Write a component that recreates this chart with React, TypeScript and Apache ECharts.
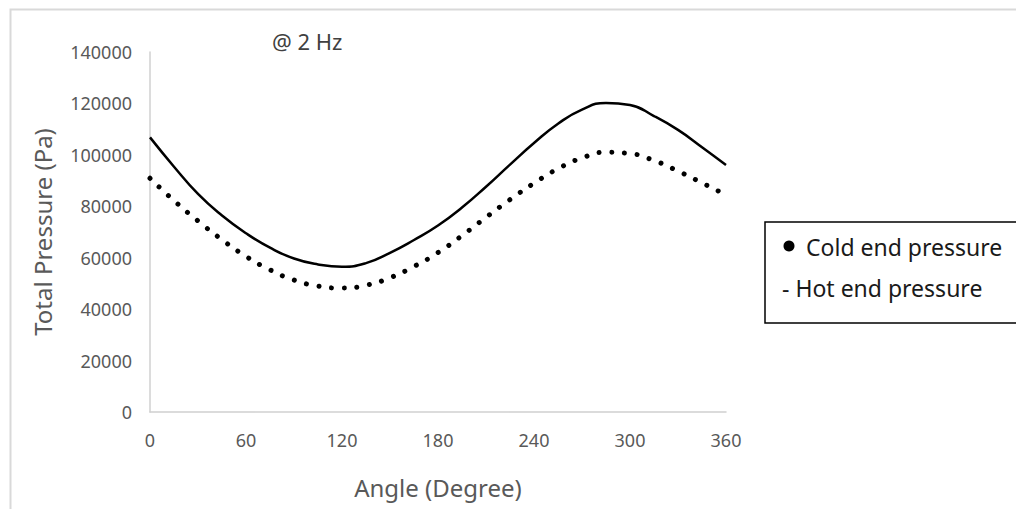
import React, { useEffect, useRef } from "react";
import * as echarts from "echarts";

const angles = [0, 15, 30, 45, 60, 75, 90, 105, 120, 135, 150, 165, 180, 195, 210, 225, 240, 255, 270, 285, 300, 315, 330, 345, 360];
const hotEndPressure = [106800, 95400, 84800, 76400, 69500, 63900, 59700, 57400, 56500, 57900, 61900, 66900, 72500, 79500, 87600, 96200, 104600, 112100, 117600, 120200, 119400, 115100, 109700, 103000, 96100];
const coldEndPressure = [90900, 82200, 74300, 67000, 60500, 55300, 51300, 49000, 48200, 49300, 52200, 56600, 62000, 68600, 75700, 82600, 89000, 94600, 98800, 101000, 100500, 97800, 93700, 89100, 84400];
const xTicks = { min: 0, max: 360, interval: 60 };
const yTicks = { min: 0, max: 140000, interval: 20000 };

const FONT = "'Noto Sans', 'Open Sans', sans-serif";

export default function App() {
  const ref = useRef<HTMLDivElement>(null);
  useEffect(() => {
    document.body.style.margin = "0";
    if (!ref.current) return;
    const chart = echarts.init(ref.current, null, { renderer: "svg" });
    const pair = (vals: number[]) => angles.map((a, i) => [a, vals[i]]);
    chart.setOption({
      animation: false,
      backgroundColor: "#ffffff",
      grid: { left: 150, right: 290, top: 52, bottom: 97 },
      xAxis: {
        type: "value",
        min: xTicks.min,
        max: xTicks.max,
        interval: xTicks.interval,
        name: "Angle (Degree)",
        nameLocation: "middle",
        nameGap: 63,
        nameTextStyle: { fontFamily: FONT, fontSize: 24, color: "#595959" },
        axisLine: { show: true, lineStyle: { color: "#d0d0d0", width: 1.5 } },
        axisTick: { show: false },
        splitLine: { show: false },
        axisLabel: { fontFamily: FONT, fontSize: 18, color: "#595959", margin: 19, formatter: (v: number) => String(v) },
      },
      yAxis: {
        type: "value",
        min: yTicks.min,
        max: yTicks.max,
        interval: yTicks.interval,
        name: "Total Pressure (Pa)",
        nameLocation: "middle",
        nameGap: 96,
        nameTextStyle: { fontFamily: FONT, fontSize: 24, color: "#595959" },
        axisLine: { show: true, lineStyle: { color: "#d0d0d0", width: 1.5 } },
        axisTick: { show: false },
        splitLine: { show: false },
        axisLabel: { fontFamily: FONT, fontSize: 18, color: "#595959", margin: 18, formatter: (v: number) => String(v) },
      },
      series: [
        {
          name: "Hot end pressure",
          type: "line",
          data: pair(hotEndPressure),
          smooth: 0.5,
          showSymbol: false,
          symbol: "none",
          lineStyle: { color: "#000000", width: 2.5 },
        },
        {
          name: "Cold end pressure",
          type: "line",
          data: pair(coldEndPressure),
          smooth: 0.5,
          showSymbol: false,
          symbol: "none",
          lineStyle: { color: "#000000", width: 5, type: [0.01, 12.7], cap: "round" },
        },
      ],
      graphic: [
        {
          type: "rect",
          left: 8,
          top: 7,
          shape: { width: 1100, height: 600 },
          style: { fill: "none", stroke: "#d9d9d9", lineWidth: 2 },
          silent: true,
        },
        {
          type: "text",
          x: 272,
          y: 41,
          style: { text: "@ 2 Hz", font: `22px ${FONT}`, fill: "#404040", verticalAlign: "middle" },
        },
        {
          type: "rect",
          shape: { x: 765, y: 222, width: 300, height: 101 },
          style: { fill: "#ffffff", stroke: "#000000", lineWidth: 1.5 },
        },
        {
          type: "circle",
          shape: { cx: 789, cy: 246, r: 5.5 },
          style: { fill: "#000000" },
        },
        {
          type: "text",
          x: 806,
          y: 247,
          style: { text: "Cold end pressure", font: `23px ${FONT}`, fill: "#1a1a1a", verticalAlign: "middle" },
        },
        {
          type: "text",
          x: 782,
          y: 288,
          style: { text: "- Hot end pressure", font: `23px ${FONT}`, fill: "#1a1a1a", verticalAlign: "middle" },
        },
      ],
    });
    return () => chart.dispose();
  }, []);
  return <div ref={ref} style={{ width: 1016, height: 509 }} />;
}
